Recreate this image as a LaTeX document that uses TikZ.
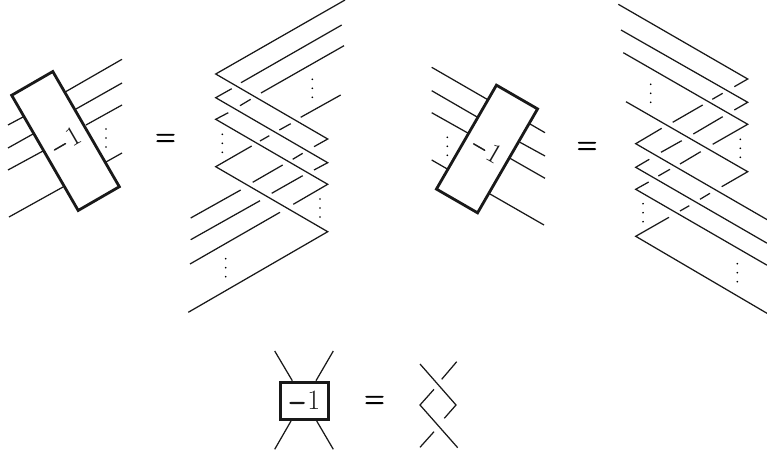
\documentclass[tikz,border=0pt]{standalone}
\usepackage{graphicx}
\usepackage{fontspec}
\usetikzlibrary{positioning}

\newfontfamily\heavyfont[FakeBold=1.5]{Latin Modern Roman}
\newfontfamily\blackfont[FakeBold=5]{Latin Modern Roman}
\newcommand{\stranddots}[2]{\foreach \d in {0,9,18} \fill (#1,#2+\d) circle (0.95);}
\newcommand{\minusone}[1]{{#1\scalebox{.78}[1]{−}}\kern2.5pt 1}

\begin{document}
\begin{tikzpicture}[
  x=1pt, y=-1pt,
  strand/.style={line width=1.25pt, black!90},
  twistbox/.style={draw, line width=2.8pt, black!90, minimum width=47.5pt, inner sep=0pt, font=\fontsize{28}{28}\selectfont},
  eqnode/.style={inner sep=0pt, font=\heavyfont\fontsize{36}{36}\selectfont}
]
\useasboundingbox (0,0) rectangle (767,457);

% Top left: box with strands
\node[twistbox, minimum height=133pt, rotate=30] (boxA) at (65.5,141) {\minusone{\heavyfont}};
\draw[strand] (65.7,91.7) -- (122,59.3) (76,109) -- (122,83) (86,125) -- (122,105) (106,162) -- (122,153);
\draw[strand] (8,125) -- (23,117) (8,148) -- (33,134) (8,170) -- (43,151) (9,217) -- (63,187);
\stranddots{106}{129}
\node[eqnode] (eqA) at (165.5,140.5) {\scalebox{.78}[1]{=}};

% Expansion of the left box
\draw[strand] (345,0) -- (215.7,74) -- (327.7,139) -- (314,146.7)
  (302.7,153.3) -- (292.7,159.3) (282.7,165) -- (252.7,182.3) (240.7,190) -- (190.7,218);
\draw[strand] (341.7,25) -- (241,82.7) (231.7,88.7) -- (215.7,97.7) -- (327.7,162.7) -- (314,170)
  (302.7,175.7) -- (271.7,193.3) (260,200.7) -- (190.7,239.7);
\draw[strand] (344,45.7) -- (261,93) (250.7,99.3) -- (240,105.7) (228.3,112.7) -- (215.7,119.3) -- (327.7,184.3) -- (293.3,204.3)
  (280,212.3) -- (190,264);
\draw[strand] (340.7,95) -- (300.7,117.3) (290.7,123.7) -- (279.3,130) (269.3,135.7) -- (260,141)
  (251.7,146) -- (215.7,166.7) -- (327.7,231.7) -- (188.3,312.3);
\stranddots{312.3}{79.3}
\stranddots{222.3}{134.3}
\stranddots{320}{199}
\stranddots{225.7}{258.7}

% Top right: box with strands
\node[twistbox, minimum height=120pt, rotate=-30] (boxB) at (487,149) {\minusone{\heavyfont}};
\draw[strand] (431.7,67.3) -- (488.3,100) (431.7,90.7) -- (478.3,117.7) (431.7,112.7) -- (468.3,133.3) (431.7,160) -- (447.3,169);
\draw[strand] (530,124) -- (545,132.7) (520,142.3) -- (545,156) (510,158.3) -- (545,178.3) (490,194) -- (544,225);
\stranddots{447.3}{137.3}
\node[eqnode] (eqB) at (587,148.5) {\scalebox{.78}[1]{=}};

% Expansion of the right box
\draw[strand] (618.3,4.3) -- (747.7,79) -- (734.3,86.7) (722.7,93.3) -- (712.3,99.3) (702.7,105) -- (672.7,122.3)
  (661.7,128.3) -- (635.7,143.7) -- (767,219.6);
\draw[strand] (621,30) -- (747.7,102.3) -- (734.3,110) (722.7,116.7) -- (693.3,134) (681.7,140.7) -- (661,152.3)
  (649.3,159.3) -- (635.7,167.3) -- (767,243.2);
\draw[strand] (623.3,52.7) -- (747.7,124.3) -- (712.7,144.3) (700.7,151.7) -- (680,164) (670,169.3) -- (658.3,176)
  (648.7,182) -- (635.7,189.3) -- (767,265.2);
\draw[strand] (626,101.7) -- (747.7,171.7) -- (721.7,186.7) (710,193.3) -- (700,199.3) (689.3,205.7) -- (680,211)
  (669,217.3) -- (635.7,236.3) -- (767,313.3);
\stranddots{650.7}{84.3}
\stranddots{740.3}{139.3}
\stranddots{643}{203.7}
\stranddots{737.3}{263.7}

% Bottom: single crossing
\node[twistbox, minimum width=48pt, minimum height=37pt] (boxC) at (304.8,400.7) {\minusone{\blackfont}};
\draw[strand] (274.7,351) -- (292.3,380.7) (333.3,351) -- (316,380.7) (291,421) -- (274.7,449.3) (316.7,421) -- (333.3,449.3);
\node[eqnode] (eqC) at (374.5,402.5) {\scalebox{.78}[1]{=}};
\draw[strand] (420,364) -- (456,405) -- (444.3,418.3) (456.7,361.7) -- (441.7,379.3);
\draw[strand] (434,389.3) -- (420,405) -- (457.7,447.7) (434,431.7) -- (420,447.3);
\end{tikzpicture}
\end{document}
